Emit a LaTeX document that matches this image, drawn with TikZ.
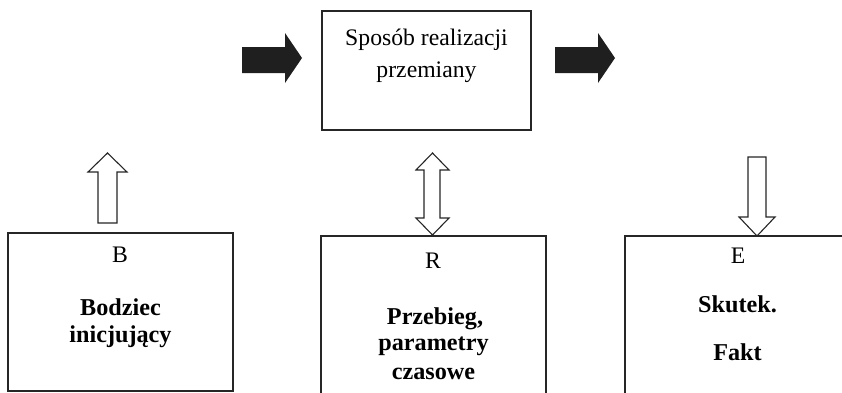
\documentclass[tikz,border=0pt]{standalone}
\usepackage{fontspec}
\setmainfont{Liberation Serif}
\begin{document}
\begin{tikzpicture}[x=1pt,y=-1pt,
  box/.style={draw=black!85,line width=1.4pt,inner sep=0pt},
  lbl/.style={anchor=base,inner sep=0pt,font=\fontsize{23.7}{27}\selectfont},
  blbl/.style={lbl,font=\fontsize{24.2}{27}\selectfont\bfseries},
  hollow/.style={draw=black!85,line width=1.1pt,fill=white,line join=miter},
  solid/.style={fill=black!88,draw=none}]
\useasboundingbox (0,0) rectangle (842,392);
\clip (0,0) rectangle (842,392);
% boxes
\node[box,minimum width=209pt,minimum height=119pt] (top) at (426.5,70.5) {};
\node[box,minimum width=225pt,minimum height=158pt] (bbox) at (120.5,312) {};
\node[box,minimum width=225pt,minimum height=164pt] (rbox) at (433.5,318) {};
\node[box,minimum width=225pt,minimum height=164pt] (ebox) at (737.5,318) {};
% texts
\node[lbl] (t1) at (426.5,45) {Sposób realizacji};
\node[lbl] (t2) at (426.5,77) {przemiany};
\node[lbl] (b0) at (120,262) {B};
\node[blbl] (b1) at (120.5,315) {Bodziec};
\node[blbl] (b2) at (120.5,342) {inicjujący};
\node[lbl] (r0) at (433,268) {R};
\node[blbl] (r1) at (435,324) {Przebieg,};
\node[blbl] (r2) at (433.5,350) {parametry};
\node[blbl] (r3) at (433.5,379) {czasowe};
\node[lbl] (e0) at (738,263) {E};
\node[blbl] (e1) at (737.5,312) {Skutek.};
\node[blbl] (e2) at (737.5,360) {Fakt};
% black arrows
\fill[solid] (242,47) -- (285,47) -- (285,33) -- (302,58) -- (285,83) -- (285,73) -- (242,73) -- cycle;
\fill[solid] (555,47) -- (598,47) -- (598,33) -- (615,58) -- (598,83) -- (598,73) -- (555,73) -- cycle;
% hollow up arrow (B)
\draw[hollow] (98,223) -- (98,172) -- (88,172) -- (107.5,153) -- (127,172) -- (117,172) -- (117,223) -- cycle;
% hollow double arrow (R)
\draw[hollow] (424,170) -- (416,170) -- (432.5,153) -- (449,170) -- (440,170) -- (440,218) -- (449,218) -- (432.5,235) -- (416,218) -- (424,218) -- cycle;
% hollow down arrow (E)
\draw[hollow] (748,157) -- (766,157) -- (766,217) -- (775,217) -- (757,236) -- (739,217) -- (748,217) -- cycle;
\end{tikzpicture}
\end{document}
